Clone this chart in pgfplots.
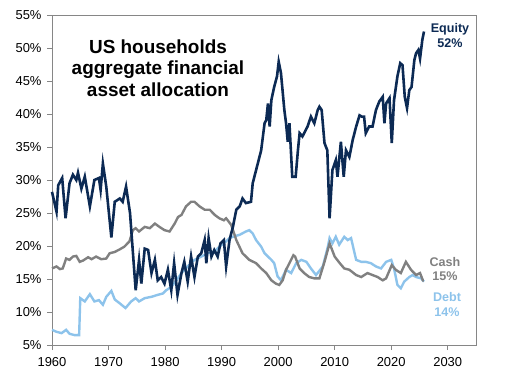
\documentclass[border=0pt]{standalone}
\usepackage{pgfplots}
\pgfplotsset{compat=1.18}
\usepackage{fontspec}
\setmainfont{Liberation Sans}
\definecolor{eqc}{RGB}{12,42,84}
\definecolor{cashc}{RGB}{128,128,128}
\definecolor{debtc}{RGB}{141,195,235}
\definecolor{axc}{RGB}{134,134,134}
\begin{document}
\begin{tikzpicture}[x=1bp,y=1bp]
\path[use as bounding box] (0,0) rectangle (505,382);
\begin{axis}[
  at={(52bp,37bp)}, anchor=south west,
  scale only axis, width=424bp, height=330bp,
  xmin=1960, xmax=2035, ymin=5, ymax=55,
  xtick={1960,1970,...,2030}, ytick={5,10,...,55},
  yticklabel={\pgfmathprintnumber{\tick}\%},
  /pgf/number format/1000 sep={},
  /pgf/number format/assume math mode=true,
  tick align=outside, tick pos=left,
  major tick length=5bp,
  axis line style={color=axc, line width=0.9pt},
  tick style={color=axc, line width=0.9pt},
  ticklabel style={font=\fontsize{13}{15}\selectfont, text=black},
  xticklabel style={yshift=-4bp},
  yticklabel style={xshift=-2bp},
  clip=false,
]
\addplot[debtc, line width=2.4bp] coordinates {
(1960.0,7.3)(1960.8,7.0)(1961.7,6.8)(1962.5,7.3)(1963.1,6.7)(1964.0,6.5)(1964.8,6.5)
(1965.0,12.1)(1965.8,11.6)(1966.7,12.7)(1967.5,11.6)(1968.3,11.8)(1969.0,11.1)(1969.6,12.3)
(1970.5,13.2)(1971.1,11.9)(1972.0,11.3)(1973.0,10.6)(1974.0,11.6)(1974.8,12.1)(1975.4,11.6)
(1976.4,12.1)(1977.6,12.3)(1978.7,12.6)(1979.6,12.8)(1980.2,13.3)(1981.1,13.8)(1982.0,14.8)
(1982.9,15.9)(1984.0,16.9)(1985.2,17.9)(1986.4,18.4)(1987.6,18.9)(1988.7,19.1)(1989.6,19.9)
(1990.4,20.4)(1991.4,21.2)(1992.0,21.4)(1993.2,21.7)(1994.3,22.2)(1994.9,22.4)(1995.5,21.9)
(1996.1,20.9)(1997.0,19.9)(1997.6,18.9)(1998.2,18.4)(1998.8,17.9)(1999.3,17.4)(1999.9,15.4)
(2000.5,14.8)(2001.4,16.4)(2002.3,15.9)(2003.2,17.4)(2004.1,17.9)(2005.0,17.6)(2005.8,16.6)
(2006.7,15.6)(2007.9,16.9)(2008.8,19.9)(2009.1,21.2)(2009.6,20.4)(2010.2,21.4)(2010.8,20.2)
(2011.7,21.4)(2012.3,20.9)(2012.9,21.2)(2013.8,17.9)(2014.7,17.6)(2015.5,17.6)(2016.4,17.4)
(2017.3,16.9)(2018.2,16.6)(2019.1,17.6)(2020.0,17.9)(2020.5,16.6)(2021.1,14.1)(2021.7,13.6)
(2022.3,14.6)(2023.2,15.3)(2023.8,15.6)(2024.4,15.3)(2025.3,15.1)(2025.8,14.6)
};
\addplot[cashc, line width=2.4bp] coordinates {
(1960.0,16.6)(1960.8,16.9)(1961.4,16.5)(1961.9,16.6)(1962.5,18.1)(1963.1,17.9)(1963.7,18.4)
(1964.3,18.5)(1964.9,17.6)(1965.5,17.8)(1966.4,18.3)(1967.0,18.0)(1967.8,18.4)(1968.7,18.0)
(1969.6,18.1)(1970.2,18.9)(1971.1,19.1)(1972.0,19.5)(1972.8,19.9)(1973.7,20.7)(1974.3,22.4)
(1974.8,22.7)(1975.4,22.2)(1976.4,22.9)(1977.3,22.7)(1978.2,23.4)(1979.0,22.9)(1979.9,22.4)
(1980.8,22.2)(1981.7,23.4)(1982.3,24.4)(1982.9,24.7)(1983.7,26.0)(1984.6,26.7)(1985.2,26.7)
(1986.1,26.0)(1987.0,25.5)(1987.9,25.5)(1988.8,24.7)(1989.6,24.2)(1990.4,23.9)(1990.8,24.2)
(1991.7,23.2)(1992.6,20.9)(1993.7,18.9)(1994.9,17.9)(1996.1,17.4)(1997.0,16.6)(1997.9,15.9)
(1998.8,14.8)(1999.6,14.3)(2000.2,14.1)(2000.8,14.8)(2001.4,16.4)(2002.0,17.4)(2002.7,18.6)
(2003.0,18.4)(2003.8,16.6)(2004.6,15.9)(2005.5,15.3)(2006.4,15.1)(2007.3,15.1)(2008.2,17.6)
(2009.1,20.4)(2010.0,18.4)(2010.9,17.4)(2011.7,16.6)(2012.6,16.4)(2013.8,15.6)(2014.7,15.3)
(2015.8,15.9)(2016.7,15.6)(2017.6,15.3)(2018.5,14.8)(2019.1,15.1)(2020.1,17.1)(2020.8,16.4)
(2021.7,15.9)(2022.6,17.6)(2023.5,16.4)(2024.4,15.6)(2025.1,15.9)(2025.6,14.8)(2025.8,14.8)
};
\addplot[eqc, line width=2.6bp] coordinates {
(1960.0,28.2)(1960.8,25.2)(1961.1,29.2)(1961.8,30.3)(1962.4,24.2)(1963.1,29.5)(1963.7,30.8)
(1964.3,30.0)(1964.6,31.1)(1965.2,28.7)(1965.8,30.5)(1966.7,26.0)(1967.5,30.0)(1968.3,30.3)
(1968.6,28.5)(1969.0,32.5)(1969.6,29.0)(1970.5,21.3)(1971.1,26.7)(1972.0,27.2)(1972.5,26.7)
(1973.1,29.0)(1973.8,25.0)(1974.8,13.3)(1975.4,17.9)(1975.8,14.3)(1976.4,19.6)(1977.0,19.4)
(1977.6,15.9)(1978.2,17.9)(1978.7,14.8)(1979.3,15.3)(1979.9,14.3)(1980.5,16.4)(1981.1,13.3)
(1981.6,17.4)(1982.2,12.6)(1982.9,15.9)(1983.4,17.6)(1984.0,14.6)(1984.6,18.4)(1985.2,15.3)
(1985.8,18.4)(1986.4,18.9)(1987.0,20.9)(1987.3,17.4)(1987.7,21.2)(1988.2,18.4)(1988.7,19.4)
(1989.3,18.4)(1989.8,20.4)(1990.4,20.9)(1990.8,16.9)(1991.4,20.9)(1992.0,22.9)(1992.6,25.5)
(1993.2,26.0)(1993.7,27.2)(1994.3,26.5)(1995.2,26.7)(1995.5,29.5)(1996.1,31.5)(1997.0,34.5)
(1997.6,38.6)(1997.9,39.1)(1998.2,41.6)(1998.5,38.1)(1998.8,42.1)(1999.3,44.1)(1999.8,45.7)
(2000.1,47.9)(2000.5,46.2)(2001.1,40.6)(2001.4,38.6)(2001.7,35.8)(2002.0,38.6)(2002.5,30.5)
(2003.1,30.5)(2003.5,34.5)(2003.8,37.1)(2004.3,36.6)(2004.9,37.6)(2005.2,38.1)(2005.8,39.6)
(2006.4,38.6)(2007.0,40.6)(2007.3,41.1)(2007.7,40.6)(2008.2,35.6)(2008.7,34.5)(2009.1,24.2)
(2009.6,31.5)(2010.2,33.0)(2010.5,30.5)(2011.1,35.8)(2011.6,30.5)(2012.0,34.5)(2012.6,33.5)
(2013.2,36.1)(2013.8,38.1)(2014.4,39.8)(2014.8,39.6)(2015.2,39.6)(2015.5,37.1)(2016.1,38.1)
(2016.7,38.1)(2017.3,40.6)(2017.9,41.9)(2018.5,42.6)(2018.8,38.6)(2019.1,41.6)(2019.7,42.4)
(2020.1,35.6)(2020.5,42.1)(2021.1,45.7)(2021.6,47.7)(2022.0,47.4)(2022.4,42.6)(2022.8,40.9)
(2023.2,43.6)(2023.6,44.1)(2024.1,48.2)(2024.4,49.2)(2024.8,49.7)(2025.1,48.4)(2025.5,51.2)
(2025.8,52.5)
};
\end{axis}
\node[font=\bfseries\fontsize{19}{21.5}\selectfont, align=center] at (158,314) {US households\\aggregate financial\\asset allocation};
\node[text=eqc, font=\bfseries\fontsize{12.6}{14.5}\selectfont, align=center] at (450,346.5) {Equity\\52\%};
\node[text=cashc, font=\bfseries\fontsize{12.6}{14.5}\selectfont, align=center] at (445,113) {Cash\\15\%};
\node[text=debtc, font=\bfseries\fontsize{12.6}{14.5}\selectfont, align=center] at (447,77.5) {Debt\\14\%};
\end{tikzpicture}
\end{document}
